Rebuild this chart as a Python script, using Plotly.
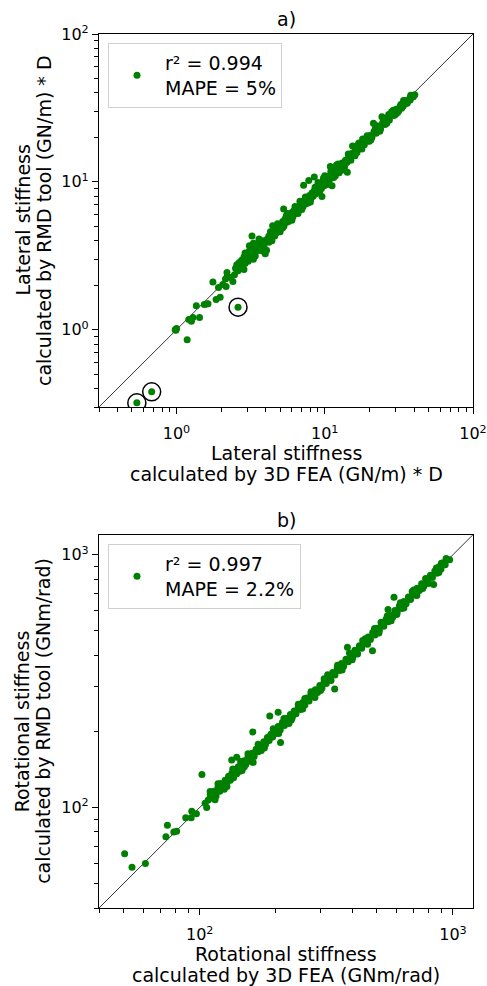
import math
import plotly.graph_objects as go

# ---------------- data: a) lateral stiffness ----------------
LAT_FEA = [
    0.54, 0.68, 0.98, 1.00, 0.99, 1.18, 1.21, 1.26, 1.29, 1.43, 1.36, 1.54, 1.63, 1.59,
    1.85, 1.97, 1.76, 1.92, 2.16, 2.60, 2.19, 2.14, 2.40, 2.46, 2.05, 2.20, 2.30,
    2.50, 2.55, 2.60, 2.65, 2.70, 2.75, 2.80, 2.85, 2.90, 2.95, 3.00, 3.05, 3.10, 3.15,
    3.20, 3.25, 3.30, 3.35, 3.40, 3.45, 3.50, 3.55, 3.60, 3.65, 3.70, 3.75, 3.80, 3.85,
    3.90, 3.95, 4.05, 4.10, 4.20, 4.30, 4.40, 4.50, 4.60, 4.70, 4.80, 4.90, 5.00, 5.10,
    5.20, 5.30, 5.40, 5.50, 5.60, 5.70, 5.80, 5.90, 6.00, 6.10, 6.20, 6.35, 6.50, 6.60,
    6.75, 6.90, 7.00, 7.15, 7.30, 7.45, 7.60, 7.75, 7.90, 8.05, 8.20, 8.35, 8.50, 8.70,
    8.90, 9.10, 9.30, 9.50, 9.70, 9.90, 10.1, 10.3, 10.5, 10.7, 10.9, 11.1, 11.4, 11.6,
    11.9, 12.2, 12.5, 12.8, 13.1, 13.4, 13.8, 14.1, 14.5, 14.9, 15.3, 15.7, 16.1, 16.5,
    17.0, 17.5, 18.0, 18.5, 19.0, 19.6, 20.2, 20.8, 21.5, 22.2, 23.0, 23.8, 24.6, 25.5,
    26.4, 27.3, 28.3, 29.3, 30.4, 31.5, 32.6, 33.8, 35.0, 36.3, 37.6, 39.0, 40.5,
    3.10, 3.30, 3.60, 3.40, 2.90, 3.80, 4.40, 4.45, 5.28, 3.23, 3.97, 7.20, 7.80, 8.50,
    9.58, 11.2, 14.2, 10.9, 15.4, 21.3, 24.3, 26.2, 6.00, 6.80, 8.00, 9.00, 10.0, 11.8,
    12.0, 13.0, 16.0, 18.0, 20.0, 22.0, 30.0, 33.0, 5.00, 5.50, 4.80, 7.00, 12.5, 17.0,
    27.0, 3.30, 2.85, 4.20, 28.3, 32.2, 34.8, 37.7, 39.6,
    4.30, 4.60, 5.20, 5.60, 6.30, 6.60, 7.40, 7.70, 8.60, 9.20, 9.80, 10.4, 11.0, 11.5,
    12.3, 13.6, 14.4, 15.0, 16.8, 17.8, 19.3, 20.5, 22.5, 23.5, 25.0, 29.0, 31.0, 34.0,
    36.0, 38.0,
]
LAT_RMD = [
    0.32, 0.38, 1.00, 1.02, 0.99, 0.855, 1.17, 1.14, 1.21, 1.21, 1.45, 1.48, 1.50, 1.49,
    1.60, 1.66, 2.10, 1.93, 1.96, 1.42, 2.44, 2.20, 2.12, 2.35, 2.02, 2.30, 2.25,
    2.60, 2.75, 2.50, 2.85, 2.60, 2.95, 2.75, 3.10, 2.80, 3.00, 3.20, 2.90, 3.40, 3.05,
    3.50, 3.20, 3.60, 3.30, 3.75, 3.40, 3.55, 3.85, 3.45, 3.70, 3.90, 3.50, 3.80, 4.00,
    3.60, 3.90, 3.45, 4.10, 4.30, 4.05, 4.50, 4.30, 4.70, 4.50, 4.90, 4.60, 5.10, 4.85,
    5.40, 5.00, 5.60, 5.30, 5.80, 5.40, 6.00, 5.60, 6.20, 5.80, 6.40, 6.10, 6.70, 6.30,
    6.90, 6.60, 7.20, 6.80, 7.50, 7.10, 7.80, 7.40, 8.10, 7.70, 8.40, 8.00, 8.70, 8.30,
    9.10, 8.60, 9.60, 9.00, 10.0, 9.40, 10.4, 9.80, 10.9, 10.2, 11.1, 10.6, 11.6, 11.0,
    12.1, 11.7, 12.8, 12.2, 13.4, 12.8, 14.0, 13.5, 14.8, 14.3, 15.6, 15.1, 16.4, 15.8,
    17.3, 16.8, 18.5, 17.8, 19.5, 18.9, 20.6, 20.0, 22.0, 21.3, 23.6, 22.8, 25.2, 24.4,
    27.0, 26.2, 29.0, 28.1, 31.0, 30.2, 33.3, 32.5, 35.5, 35.0, 37.0, 38.0, 38.8,
    3.70, 3.00, 4.10, 3.15, 3.30, 3.40, 4.00, 5.05, 6.54, 4.31, 3.26, 9.50, 10.2, 10.8,
    7.95, 9.40, 11.6, 12.7, 17.5, 24.9, 27.6, 24.9, 5.50, 7.40, 7.30, 9.90, 11.0, 11.0,
    13.0, 12.0, 15.0, 19.5, 18.8, 23.5, 28.5, 31.5, 4.60, 5.90, 5.20, 6.50, 11.5, 18.3,
    28.5, 3.85, 2.55, 3.90, 29.9, 32.3, 33.7, 35.8, 37.7,
    4.60, 4.30, 4.90, 6.10, 6.80, 6.10, 7.90, 7.20, 9.20, 8.50, 10.6, 9.60, 11.8, 10.7,
    13.2, 12.6, 15.4, 14.0, 17.9, 16.7, 20.5, 19.3, 24.0, 22.0, 26.5, 30.5, 29.5, 35.5,
    34.0, 38.5,
]
LAT_CIRCLED_FEA = [2.60, 0.68, 0.54]
LAT_CIRCLED_RMD = [1.42, 0.38, 0.32]
LAT_LIMITS = [0.3, 100]
LAT_LEGEND = "r² = 0.994<br>MAPE = 5%"
LAT_TICKVALS = [1, 10, 100]
LAT_TICKTEXT = ["10<sup>0</sup>", "10<sup>1</sup>", "10<sup>2</sup>"]
LAT_MINOR = [0.3, 0.4, 0.5, 0.6, 0.7, 0.8, 0.9, 2, 3, 4, 5, 6, 7, 8, 9,
             20, 30, 40, 50, 60, 70, 80, 90]
LAT_XLABEL = ["Lateral stiffness", "calculated by 3D FEA (GN/m) * D"]
LAT_YLABEL = ["Lateral stiffness", "calculated by RMD tool (GN/m) * D"]

# ---------------- data: b) rotational stiffness ----------------
ROT_FEA = [
    50.5, 54, 61, 73.5, 74.5, 79, 81, 88, 92.5, 93, 97, 102, 106.5, 105, 109.9, 114.9,
    108, 110, 112, 114, 116, 118, 120, 122, 124, 126, 128, 130, 132, 134, 136, 138, 140,
    142, 144, 146, 148, 150, 152, 155, 158, 161, 164, 167, 170, 173, 176, 179, 182, 185,
    188, 191, 194, 197, 200, 204, 208, 212, 216, 220, 224, 228, 232, 236, 240, 245, 250,
    255, 260, 265, 270, 275, 280, 286, 292, 298, 304, 310, 316, 322, 328, 335, 342, 349,
    356, 363, 370, 378, 386, 394, 402, 410, 418, 427, 436, 445, 454, 463, 472, 482, 492,
    502, 512, 522, 533, 544, 555, 566, 578, 590, 602, 614, 627, 640, 653, 667, 680, 694,
    708, 722, 737, 752, 767, 783, 798, 815, 830, 848, 864, 880, 897, 915, 932, 950, 970,
    133.7, 140, 162, 162.5, 208.5, 189, 204, 341, 383, 481, 585, 554, 839,
    150, 145, 175, 230, 260, 300, 320, 420, 450, 520, 600, 700, 760, 900, 120, 128,
    118, 125, 135, 147, 155, 160, 170, 180, 195, 205, 215, 225, 245, 255, 275, 285, 310,
    330, 350, 365, 390, 400, 440, 460, 490, 510, 550, 570, 620, 640, 690, 720, 780, 800,
    860, 880, 940,
]
ROT_RMD = [
    65.5, 58, 60, 76.5, 85, 80, 80.5, 91, 91, 96.5, 94.5, 135, 100, 104, 115.7, 107.3,
    107, 112, 109, 116, 111, 120, 116, 124, 120, 128, 125, 133, 128, 137, 131, 141, 136,
    145, 139, 149, 144, 153, 148, 158, 154, 164, 159, 170, 166, 176, 172, 182, 178, 189,
    184, 195, 190, 200, 196, 209, 203, 217, 211, 225, 219, 233, 227, 241, 235, 250, 244,
    260, 254, 271, 264, 281, 274, 292, 285, 304, 297, 316, 309, 329, 321, 342, 334, 356,
    348, 371, 362, 386, 377, 402, 393, 419, 409, 436, 426, 454, 444, 473, 462, 492, 481,
    512, 501, 533, 521, 555, 543, 578, 565, 602, 589, 627, 613, 653, 639, 680, 665, 708,
    693, 737, 721, 767, 750, 798, 781, 830, 812, 862, 845, 895, 878, 930, 912, 955, 955,
    154, 158, 199, 150.6, 180.6, 230, 238, 294, 430, 417, 678, 607, 762,
    145, 152, 168, 222, 270, 290, 335, 405, 465, 540, 580, 725, 735, 925, 124, 121,
    124, 118, 142, 140, 163, 152, 178, 172, 205, 196, 225, 215, 256, 245, 287, 272, 323,
    318, 365, 350, 408, 384, 458, 442, 510, 490, 572, 548, 645, 615, 715, 690, 805, 770,
    885, 850, 965,
]
ROT_LIMITS = [40, 1200]
ROT_LEGEND = "r² = 0.997<br>MAPE = 2.2%"
ROT_TICKVALS = [100, 1000]
ROT_TICKTEXT = ["10<sup>2</sup>", "10<sup>3</sup>"]
ROT_MINOR = [40, 50, 60, 70, 80, 90, 200, 300, 400, 500, 600, 700, 800, 900]
ROT_XLABEL = ["Rotational stiffness", "calculated by 3D FEA (GNm/rad)"]
ROT_YLABEL = ["Rotational stiffness", "calculated by RMD tool (GNm/rad)"]

# ---------------- style ----------------
W, H = 487, 986
FONT = "DejaVu Sans"
GREEN = "#008000"
PL, PR = 99, 473            # plot left / right (px)
A_TOP, A_BOT = 34, 407      # subplot a) top / bottom (px)
B_TOP, B_BOT = 534.7, 908   # subplot b) top / bottom (px)
LABEL_SIZE = 19
TICK_SIZE = 16

fig = go.Figure()


def add_panel(xs, ys, limits, legend_name, xaxis, yaxis, legend):
    fig.add_trace(go.Scatter(x=limits, y=limits, mode="lines",
                             line=dict(color="black", width=0.8),
                             showlegend=False, hoverinfo="skip",
                             xaxis=xaxis, yaxis=yaxis))
    fig.add_trace(go.Scatter(x=xs, y=ys, mode="markers", name=legend_name,
                             marker=dict(color=GREEN, size=7),
                             xaxis=xaxis, yaxis=yaxis, legend=legend))


add_panel(LAT_FEA, LAT_RMD, LAT_LIMITS, LAT_LEGEND, "x", "y", "legend")
fig.add_trace(go.Scatter(x=LAT_CIRCLED_FEA, y=LAT_CIRCLED_RMD, mode="markers",
                         marker=dict(symbol="circle-open", size=18, color="black",
                                     line=dict(width=1.5, color="black")),
                         showlegend=False, xaxis="x", yaxis="y"))
add_panel(ROT_FEA, ROT_RMD, ROT_LIMITS, ROT_LEGEND, "x2", "y2", "legend2")


def axis(rng, domain, anchor, tickvals, ticktext, minor, standoff):
    return dict(type="log", range=[math.log10(rng[0]), math.log10(rng[1])],
                domain=domain, anchor=anchor,
                showline=True, linecolor="black", linewidth=1.2, mirror=True,
                ticks="outside", ticklen=6, tickwidth=1.1, tickcolor="black",
                tickvals=tickvals, ticktext=ticktext, ticklabelstandoff=standoff,
                tickfont=dict(family=FONT, size=TICK_SIZE, color="black"),
                minor=dict(tickvals=minor, ticks="outside", ticklen=3.5,
                           tickwidth=0.9, tickcolor="black", showgrid=False),
                showgrid=False, zeroline=False, automargin=False)


def legend_box(top_px):
    return dict(x=108 / W, y=1 - top_px / H, xanchor="left", yanchor="top",
                bgcolor="rgba(255,255,255,0.8)", bordercolor="#d0d0d0", borderwidth=1,
                itemwidth=46, tracegroupgap=0,
                font=dict(family=FONT, size=LABEL_SIZE, color="black"))


xd = [PL / W, PR / W]
fig.update_layout(
    width=W, height=H, margin=dict(l=0, r=0, t=0, b=0),
    paper_bgcolor="white", plot_bgcolor="white",
    font=dict(family=FONT, size=LABEL_SIZE, color="black"),
    xaxis=axis(LAT_LIMITS, xd, "y", LAT_TICKVALS, LAT_TICKTEXT, LAT_MINOR, 6),
    yaxis=axis(LAT_LIMITS, [1 - A_BOT / H, 1 - A_TOP / H], "x",
               LAT_TICKVALS, LAT_TICKTEXT, LAT_MINOR, 0),
    xaxis2=axis(ROT_LIMITS, xd, "y2", ROT_TICKVALS, ROT_TICKTEXT, ROT_MINOR, 6),
    yaxis2=axis(ROT_LIMITS, [1 - B_BOT / H, 1 - B_TOP / H], "x2",
                ROT_TICKVALS, ROT_TICKTEXT, ROT_MINOR, 0),
    legend=legend_box(43),
    legend2=legend_box(544),
)

cx = (PL + PR) / 2 / W


def text_at(text, xpaper, ypx, angle=0):
    fig.add_annotation(text=text, x=xpaper, y=1 - ypx / H, xref="paper", yref="paper",
                       xanchor="center", yanchor="middle", showarrow=False,
                       textangle=angle,
                       font=dict(family=FONT, size=LABEL_SIZE, color="black"))


text_at("a)", cx, 19)
text_at("b)", cx, 520)
for (lines, y0) in [(LAT_XLABEL, 453), (ROT_XLABEL, 954)]:
    text_at(lines[0], cx, y0)
    text_at(lines[1], cx, y0 + 21)
for (lines, top, bot) in [(LAT_YLABEL, A_TOP, A_BOT), (ROT_YLABEL, B_TOP, B_BOT)]:
    text_at(lines[0], 22 / W, (top + bot) / 2, -90)
    text_at(lines[1], 43.5 / W, (top + bot) / 2, -90)

fig.write_html("out.html", config={"displayModeBar": False},
               post_script="document.body.style.margin='0px';")
